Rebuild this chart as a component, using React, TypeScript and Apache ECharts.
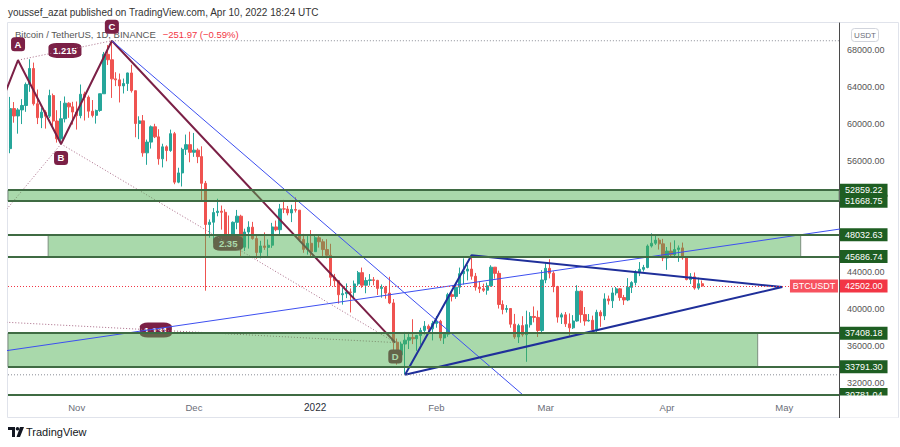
import React, { useEffect, useRef } from 'react';
import * as echarts from 'echarts';

// ---------- axes (x = days relative to Nov 1, 2021) ----------
const X_MIN = -17.57;
const X_MAX = 195;
const Y_MIN = 30736;
const Y_MAX = 70916;
const monthStarts = [0, 30, 61, 92, 120, 151, 181];
const monthLabels = ['Nov', 'Dec', '2022', 'Feb', 'Mar', 'Apr', 'May'];
const priceTicks = [32000, 36000, 40000, 44000, 56000, 60000, 64000, 68000];

// ---------- daily candles [open, high, low, close] ----------
const oct2021 = [
  [57347, 62933, 56850, 61672], [61672, 62378, 60150, 60875], [60875, 61718, 58963, 61528],
  [61528, 62695, 60000, 62010], [62005, 64486, 61322, 64280], [64280, 67000, 63482, 66002],
  [66002, 66639, 62000, 62193], [62193, 63732, 60000, 60688], [60688, 61747, 59562, 61286],
  [61286, 61500, 59510, 60852], [60852, 63710, 60650, 63078], [63078, 63293, 59817, 60329],
  [60329, 61496, 58000, 58413], [58413, 62499, 57820, 60575], [60575, 62980, 60174, 62254],
  [62254, 62359, 60673, 61859], [61859, 62405, 59945, 61299],
];
const nov2021 = [
  [61300, 62437, 59405, 60911], [60911, 64270, 60624, 63219], [63254, 63500, 60382, 62896],
  [62896, 63086, 60677, 61395], [61395, 62595, 60721, 60937], [60940, 61560, 60050, 61470],
  [61470, 63286, 61322, 63273], [63274, 67789, 63273, 67525], [67526, 68530, 66382, 66947],
  [66947, 69000, 62822, 64882], [64883, 65600, 64100, 64774], [64775, 65460, 62333, 64123],
  [64124, 64915, 63303, 64380], [64381, 65550, 63577, 65519], [65520, 66401, 63400, 63607],
  [63606, 63617, 58574, 60058], [60059, 60840, 58373, 60345], [60345, 60977, 56474, 56891],
  [56891, 58321, 55600, 58052], [58052, 59846, 57353, 59707], [59707, 60029, 58486, 58622],
  [58617, 59444, 55610, 56247], [56247, 57875, 55317, 57541], [57542, 57700, 55985, 57138],
  [57139, 59398, 57000, 58960], [58960, 59150, 53500, 53726], [53724, 55281, 53610, 54722],
  [54721, 57445, 53256, 57274], [57275, 58865, 56666, 57776], [57777, 59176, 55875, 56950],
];
const dec2021 = [
  [56951, 59041, 56458, 57185], [57185, 57375, 55778, 56481], [56485, 57600, 51680, 53602],
  [53602, 53859, 42000, 49153], [49153, 49699, 47727, 49397], [49397, 50929, 47100, 50441],
  [50441, 51936, 50039, 50589], [50588, 51200, 48600, 50471], [50471, 50797, 47320, 47545],
  [47535, 50125, 46852, 47140], [47140, 49485, 46751, 49389], [49389, 50724, 48638, 50053],
  [50053, 50205, 45672, 46702], [46702, 48700, 46290, 48343], [48336, 49500, 46547, 48864],
  [48864, 49436, 47511, 47632], [47632, 47995, 45456, 46131], [46133, 47392, 45500, 46834],
  [46834, 48300, 46406, 46681], [46681, 47537, 45558, 46914], [46914, 49328, 46630, 48889],
  [48887, 49576, 48421, 48588], [48588, 51375, 47920, 50838], [50838, 51810, 50384, 50820],
  [50819, 51156, 50142, 50400], [50400, 51280, 49412, 50775], [50775, 52088, 50449, 50701],
  [50702, 50704, 47313, 47543], [47543, 48139, 46096, 46464], [46464, 47900, 45900, 47120],
  [47120, 48548, 45678, 46216],
];
const jan2022 = [
  [46216, 47954, 46208, 47722], [47722, 47990, 46654, 47286], [47286, 47570, 45696, 46446],
  [46446, 47557, 45500, 45832], [45832, 47070, 42500, 43451], [43451, 43816, 42430, 43082],
  [43082, 43145, 40610, 41566], [41566, 42300, 40501, 41680], [41680, 42786, 41200, 41864],
  [41864, 42248, 39650, 41822], [41822, 43100, 41268, 42735], [42736, 44135, 42528, 43950],
  [43950, 44500, 42311, 42592], [42592, 43448, 41725, 43099], [43099, 43800, 42555, 43177],
  [43177, 43478, 42581, 43113], [43113, 43179, 41540, 42250], [42250, 42675, 41250, 42375],
  [42374, 42522, 41138, 41744], [41744, 43505, 40553, 40680], [40680, 41100, 35440, 36445],
  [36445, 36835, 34008, 35071], [35071, 36499, 34601, 36244], [36244, 37550, 32917, 36660],
  [36660, 37545, 35701, 36958], [36958, 38919, 36234, 36809], [36808, 37234, 35507, 37160],
  [37160, 38000, 36155, 37716], [37716, 38720, 37268, 38166], [38166, 38359, 37351, 37881],
  [37882, 38744, 36632, 38467],
];
const feb2022 = [
  [38466, 39265, 38000, 38694], [38694, 38855, 36586, 36896], [36897, 37387, 36250, 37311],
  [37311, 41772, 37026, 41574], [41572, 41913, 40843, 41382], [41383, 42656, 41116, 42380],
  [42380, 44500, 41645, 43840], [43840, 45492, 42666, 44118], [44118, 44799, 43117, 44338],
  [44339, 45821, 43188, 43566], [43566, 43920, 42008, 42388], [42388, 43000, 41748, 42209],
  [42210, 42760, 41870, 42053], [42054, 42876, 41570, 42535], [42535, 44751, 42428, 44544],
  [44544, 44549, 43307, 43873], [43873, 44164, 40073, 40515], [40516, 40959, 39450, 39974],
  [39974, 40444, 39639, 40079], [40080, 40125, 38000, 38386], [38386, 39494, 36800, 37008],
  [37009, 38429, 36350, 38230], [38230, 39249, 37036, 37250], [37250, 39843, 34322, 38328],
  [38328, 39683, 38014, 39219], [39219, 40300, 38580, 39116], [39116, 39855, 37000, 37700],
  [37699, 44225, 37450, 43160],
];
const mar2022 = [
  [43160, 44949, 42809, 44421], [44421, 45400, 43334, 43893], [43893, 44100, 41832, 42455],
  [42455, 42527, 38550, 39148], [39148, 39613, 38407, 39397], [39397, 39693, 38088, 38420],
  [38420, 39547, 37155, 37988], [37988, 39362, 37867, 38730], [38730, 42594, 38656, 41941],
  [41942, 42039, 38539, 39422], [39422, 40236, 38223, 38729], [38729, 39486, 38660, 38807],
  [38807, 39310, 37578, 37777], [37777, 39947, 37555, 39671], [39671, 39887, 38098, 39281],
  [39280, 41718, 38828, 41114], [41114, 41478, 40500, 40917], [40917, 42325, 40135, 41757],
  [41757, 42400, 41499, 42201], [42201, 42296, 40911, 41262], [41262, 41544, 40467, 41002],
  [41002, 43361, 40875, 42364], [42364, 43025, 41751, 42882], [42882, 44220, 42560, 43991],
  [43991, 45094, 43579, 44313], [44313, 44792, 44072, 44511], [44511, 46999, 44422, 46827],
  [46827, 48190, 46663, 47128], [47128, 48096, 46950, 47465], [47465, 47700, 46445, 47062],
  [47063, 47600, 45200, 45538],
];
const apr2022 = [
  [45539, 46720, 44255, 46281], [46281, 47213, 45620, 45868], [45868, 47444, 45530, 46453],
  [46453, 46890, 45118, 46623], [46623, 47200, 45353, 45555], [45555, 45555, 43121, 43206],
  [43206, 43900, 42727, 43503], [43503, 43970, 42107, 42287], [42287, 43412, 42107, 42754],
  [42754, 43100, 42400, 42502],
];
const monthBlocks = [
  { start: -17, rows: oct2021 }, { start: 0, rows: nov2021 }, { start: 30, rows: dec2021 },
  { start: 61, rows: jan2022 }, { start: 92, rows: feb2022 }, { start: 120, rows: mar2022 },
  { start: 151, rows: apr2022 },
];

// ---------- horizontal levels & zones ----------
const levels = [52859.22, 51668.75, 48032.63, 45686.74, 37408.18, 33791.3, 30781.04];
const lastPrice = 42502.0;
const zone1 = [X_MIN, X_MAX, 51668.75, 52859.22];
const zone2 = [-7.3, 185.2, 45686.74, 48032.63];
const zone3 = [X_MIN, 174.2, 33791.3, 37408.18];

// ---------- XABCD pattern [day, price] ----------
const ptX = [-41, 39100];
const ptA = [-15, 66900];
const ptB = [-4, 57850];
const ptC = [9, 69000];
const ptD = [81.5, 36400];
const ratioAC = '1.215';
const ratioBD = '2.35';
const ratioXD = '1.131';

// ---------- trend lines [day, price] ----------
const descLine = [[9, 69000], [125, 26800]];
const ascLine = [[-20, 35400], [200, 48955]];
const triangle = [[84, 32917], [101, 45821], [180.5, 42400], [84, 32917]];
const lowDotted = [[X_MIN, 32917], [X_MAX, 32917]];
const highDotted = [[9, 69000], [X_MAX, 69000]];

const FONT = '"Liberation Sans", Arial, sans-serif';
const MAROON = '#7b2046';
const GREEN_TAG = '#1e5e22';
const RED = '#f23645';

const mid = (p: number[], q: number[]) => [(p[0] + q[0]) / 2, (p[1] + q[1]) / 2];

export default function App() {
  const ref = useRef<HTMLDivElement>(null);

  useEffect(() => {
    document.body.style.margin = '0';
    if (!ref.current) return;
    const chart = echarts.init(ref.current, null, { renderer: 'svg' });

    const candleData = monthBlocks.flatMap((b) =>
      b.rows.map((r, i) => [b.start + i, r[0], r[3], r[2], r[1]])
    );
    const lineBase = {
      type: 'line',
      showSymbol: false,
      symbol: 'none',
      silent: true,
      clip: true,
      emphasis: { disabled: true },
    };
    const dotted = (pts: number[][]) => ({
      ...lineBase,
      z: 3,
      data: pts,
      lineStyle: { color: '#a86a86', width: 1, type: [1, 2] },
    });
    const area = (z: number[]) => [
      { xAxis: z[0], yAxis: z[2] },
      { xAxis: z[1], yAxis: z[3] },
    ];

    const option: any = {
      animation: false,
      backgroundColor: '#ffffff',
      grid: { left: 8, right: 61, top: 23, bottom: 52, containLabel: false, outerBoundsMode: 'none' },
      xAxis: {
        type: 'value',
        min: X_MIN,
        max: X_MAX,
        axisLine: { show: false, onZero: false },
        axisTick: { show: false },
        splitLine: { show: false },
        axisLabel: {
          customValues: monthStarts,
          formatter: (v: number) => {
            const i = monthStarts.indexOf(Math.round(v));
            const t = i >= 0 ? monthLabels[i] : '';
            return t === '2022' ? '{y|2022}' : t;
          },
          color: '#6a6d78',
          fontSize: 9.5,
          fontFamily: FONT,
          margin: 7,
          rich: { y: { color: '#2a2e39', fontSize: 10, fontFamily: FONT } },
        },
      },
      yAxis: {
        type: 'value',
        position: 'right',
        min: Y_MIN,
        max: Y_MAX,
        axisLine: { show: true, onZero: false, lineStyle: { color: '#4a4a4a', width: 1 } },
        axisTick: { show: false },
        splitLine: { show: false },
        axisLabel: {
          customValues: priceTicks,
          formatter: (v: number) => v.toFixed(2),
          color: '#555',
          fontSize: 9,
          fontFamily: FONT,
          margin: 8,
        },
      },
      series: [
        {
          type: 'candlestick',
          z: 1,
          silent: true,
          barWidth: 2.8,
          data: candleData,
          itemStyle: {
            color: '#26a69a',
            color0: '#ef5350',
            borderColor: '#26a69a',
            borderColor0: '#ef5350',
            borderWidth: 1,
          },
        },
        // XABCD dotted legs
        dotted([ptX, ptB]),
        dotted([ptA, ptC]),
        dotted([ptB, ptD]),
        dotted([ptX, ptD]),
        // XABCD zigzag
        {
          ...lineBase,
          z: 3,
          data: [ptX, ptA, ptB, ptC, ptD],
          lineStyle: { color: MAROON, width: 2 },
          markPoint: {
            z: 3,
            silent: true,
            symbol: 'roundRect',
            symbolSize: [14, 14],
            itemStyle: { color: MAROON },
            label: {
              show: true,
              formatter: '{b}',
              color: '#fff',
              fontSize: 9.5,
              fontWeight: 'bold',
              fontFamily: FONT,
            },
            data: [
              { name: 'A', coord: ptA, symbolOffset: [0, -16] },
              { name: 'B', coord: ptB, symbolOffset: [0, 14] },
              { name: 'C', coord: ptC, symbolOffset: [0, -14] },
              { name: 'D', coord: ptD, symbolOffset: [0, 14] },
              { name: ratioAC, coord: mid(ptA, ptC), symbolSize: [33, 15] },
              { name: ratioBD, coord: mid(ptB, ptD), symbolSize: [30, 15] },
              { name: ratioXD, coord: mid(ptX, ptD), symbolSize: [32, 15] },
            ],
          },
        },
        // green zones (above candles / pattern)
        {
          ...lineBase,
          z: 4,
          data: [],
          markArea: {
            z: 4,
            silent: true,
            itemStyle: { color: 'rgba(76,175,80,0.48)', borderColor: '#7d8f7f', borderWidth: 1 },
            data: [area(zone1), area(zone2), area(zone3)],
          },
        },
        // blue trend lines
        { ...lineBase, z: 5, data: descLine, lineStyle: { color: '#3d4ff0', width: 1 } },
        { ...lineBase, z: 5, data: ascLine, lineStyle: { color: '#3d4ff0', width: 1 } },
        { ...lineBase, z: 5, data: triangle, lineStyle: { color: '#1f2f9a', width: 2 } },
        // gray dotted horizontals
        { ...lineBase, z: 5, data: lowDotted, lineStyle: { color: '#8a8d96', width: 1, type: [1, 2] } },
        { ...lineBase, z: 5, data: highDotted, lineStyle: { color: '#8a8d96', width: 1, type: [1, 2] } },
        // levels with price tags
        {
          ...lineBase,
          z: 6,
          data: [],
          markLine: {
            z: 6,
            silent: true,
            symbol: ['none', 'none'],
            lineStyle: { color: '#3f6b43', width: 2, type: 'solid' },
            label: {
              show: true,
              position: 'end',
              distance: 1,
              color: '#fff',
              backgroundColor: GREEN_TAG,
              padding: [2, 5, 1, 5],
              fontSize: 9,
              lineHeight: 10,
              fontFamily: FONT,
            },
            data: [
              ...levels.map((v) => ({ yAxis: v, label: { formatter: v.toFixed(2) } })),
              {
                yAxis: lastPrice,
                lineStyle: { color: RED, width: 1, type: [1, 2] },
                label: { formatter: lastPrice.toFixed(2), backgroundColor: RED },
              },
            ],
          },
          markPoint: {
            z: 6,
            silent: true,
            data: [
              {
                coord: [X_MAX - 0.01, lastPrice],
                symbol: 'rect',
                symbolSize: [48, 13],
                symbolOffset: [-25, 0],
                itemStyle: { color: '#f7525f' },
                label: {
                  show: true,
                  formatter: 'BTCUSDT',
                  color: '#fff',
                  fontSize: 9,
                  fontFamily: FONT,
                },
              },
            ],
          },
        },
      ],
      graphic: [
        {
          type: 'rect',
          z: 0,
          silent: true,
          shape: { x: 7.5, y: 22.5, width: 891, height: 395 },
          style: { fill: 'none', stroke: '#e0e3eb', lineWidth: 1 },
        },
        {
          type: 'line',
          silent: true,
          z: 101,
          shape: { x1: 839.5, y1: 395, x2: 839.5, y2: 418 },
          style: { stroke: '#4a4a4a', lineWidth: 1 },
        },
        {
          type: 'rect',
          silent: true,
          z: 100,
          shape: { x: 840, y: 395.5, width: 58, height: 22 },
          style: { fill: '#ffffff' },
        },
        {
          type: 'rect',
          silent: true,
          z: 100,
          shape: { x: 851.5, y: 28.5, width: 27, height: 13, r: 3 },
          style: { fill: '#fff', stroke: '#d1d4dc', lineWidth: 1 },
        },
        {
          type: 'text',
          silent: true,
          z: 101,
          x: 865,
          y: 35,
          style: {
            text: 'USDT',
            fill: '#6a6d78',
            fontSize: 8,
            fontFamily: FONT,
            align: 'center',
            verticalAlign: 'middle',
          },
        },
        {
          type: 'text',
          silent: true,
          x: 8,
          y: 12,
          style: {
            text: 'youssef_azat published on TradingView.com, Apr 10, 2022 18:24 UTC',
            fill: '#333',
            fontSize: 10,
            fontFamily: FONT,
            verticalAlign: 'middle',
          },
        },
        {
          type: 'text',
          silent: true,
          z: 0,
          x: 15,
          y: 34,
          style: {
            text: '{a|Bitcoin / TetherUS, 1D, BINANCE}  {b|\u2212251.97 (\u22120.59%)}',
            verticalAlign: 'middle',
            rich: {
              a: { fill: '#555', fontSize: 9.5, fontFamily: FONT },
              b: { fill: RED, fontSize: 9.5, fontFamily: FONT },
            },
          },
        },
        {
          type: 'polygon',
          silent: true,
          shape: { points: [[8, 427], [15, 427], [15, 437], [12, 437], [12, 430], [8, 430]] },
          style: { fill: '#131722' },
        },
        {
          type: 'circle',
          silent: true,
          shape: { cx: 17.5, cy: 428.8, r: 1.8 },
          style: { fill: '#131722' },
        },
        {
          type: 'polygon',
          silent: true,
          shape: { points: [[20, 427], [24, 427], [20, 437], [16.5, 437]] },
          style: { fill: '#131722' },
        },
        {
          type: 'text',
          silent: true,
          x: 26,
          y: 432,
          style: {
            text: 'TradingView',
            fill: '#131722',
            fontSize: 11,
            fontFamily: FONT,
            verticalAlign: 'middle',
          },
        },
      ],
    };

    chart.setOption(option);
    return () => chart.dispose();
  }, []);

  return (
    <div
      ref={ref}
      style={{ position: 'fixed', left: 0, top: 0, width: 900, height: 447, background: '#fff' }}
    />
  );
}
